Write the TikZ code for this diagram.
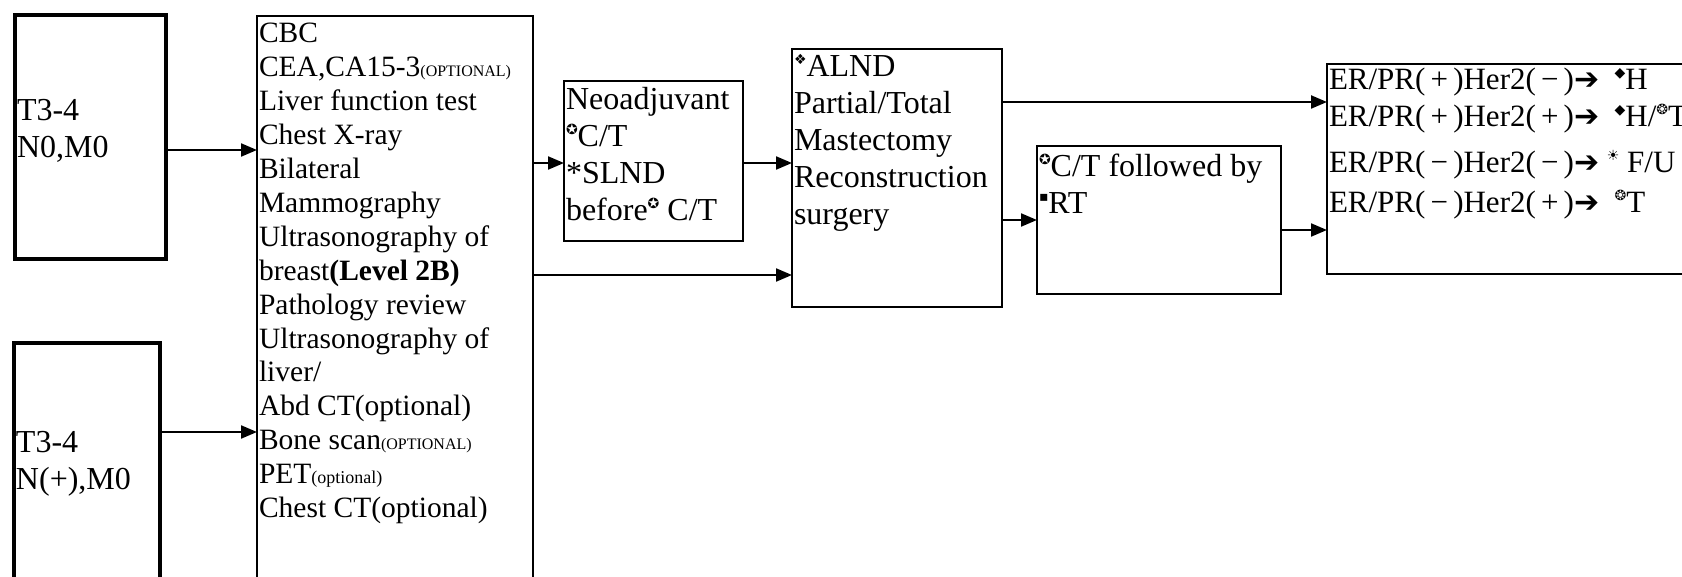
\documentclass[tikz,border=0pt]{standalone}
\usepackage{fontspec}
\setmainfont{Liberation Serif}
\newfontfamily\symf{DejaVu Sans}
\usetikzlibrary{arrows.meta}
\newcommand{\smark}[1]{\raisebox{0.40em}{\symf\fontsize{14}{14}\selectfont #1}}
\newcommand{\optsmall}[1]{{\fontsize{16}{16}\selectfont #1}}
\newcommand{\rarr}{{\symf\fontsize{30}{30}\selectfont ➔}}
\begin{document}
\begin{tikzpicture}[x=1pt,y=-1pt,
  thickbox/.style={draw, line width=4pt, inner sep=0pt, outer sep=0pt, anchor=north west},
  thinbox/.style={draw, line width=2.4pt, inner sep=0pt, outer sep=0pt, anchor=north west},
  txt/.style={inner sep=0pt, outer sep=0pt, anchor=base west, font=\fontsize{32}{37}\selectfont},
  bigtxt/.style={inner sep=0pt, outer sep=0pt, anchor=base west, font=\fontsize{29.5}{33.9}\selectfont},
  ertxt/.style={inner sep=0pt, outer sep=0pt, anchor=base west, font=\fontsize{31}{37}\selectfont},
  arr/.style={line width=2.2pt, -{Triangle[length=16pt,width=13pt]}}
]
\useasboundingbox (0,0) rectangle (1682,577);
\clip (0,0) rectangle (1682,577);

% boxes
\node[thickbox, minimum width=151pt, minimum height=244pt] (b1) at (15,15) {};
\node[thickbox, minimum width=146pt, minimum height=300pt] (b2) at (14,343) {};
\node[thinbox, line width=2pt, minimum width=276pt, minimum height=600pt] (big) at (257,16) {};
\node[thinbox, minimum width=179pt, minimum height=160pt] (neo) at (564,81) {};
\node[thinbox, minimum width=210pt, minimum height=258pt] (surg) at (792,49) {};
\node[thinbox, minimum width=244pt, minimum height=148pt] (ct) at (1037,146) {};
\node[thinbox, minimum width=400pt, minimum height=210pt] (er) at (1327,64) {};

% texts
\node[txt] (t1) at (17,121) {\begin{tabular}[t]{@{}l@{}}T3-4\\N0,M0\end{tabular}};
\node[txt] (t2) at (16,452) {\begin{tabular}[t]{@{}l@{}}T3-4\\N(+),M0\end{tabular}};
\node[bigtxt] (tbig) at (259,43) {\begin{tabular}[t]{@{}l@{}}
CBC\\
CEA,CA15-3\optsmall{(OPTIONAL)}\\
Liver function test\\
Chest X-ray\\
Bilateral\\
Mammography\\
Ultrasonography of\\
breast\textbf{(Level 2B)}\\
Pathology review\\
Ultrasonography of\\
liver/\\
Abd CT(optional)\\
Bone scan\optsmall{(OPTIONAL)}\\
PET{\fontsize{18}{18}\selectfont(optional)}\\
Chest CT(optional)
\end{tabular}};
\node[txt] (tneo) at (566,110) {\begin{tabular}[t]{@{}l@{}}
Neoadjuvant\\
\smark{✪}C/T\\
{*}SLND\\
before\smark{✪} C/T
\end{tabular}};
\node[txt] (tsurg) at (794,77) {\begin{tabular}[t]{@{}l@{}}
\smark{❖}ALND\\
Partial/Total\\
Mastectomy\\
Reconstruction\\
surgery
\end{tabular}};
\node[txt] (tct) at (1039,177) {\begin{tabular}[t]{@{}l@{}}
\smark{✪}C/T followed by\\
\smark{▪}RT
\end{tabular}};
\node[ertxt] (ter) at (1329,90) {\begin{tabular}[t]{@{}l@{}}
ER/PR(\,+\,)Her2(\,−\,)\rarr\ \ \smark{◆}H\\
ER/PR(\,+\,)Her2(\,+\,)\rarr\ \ \smark{◆}H/\smark{❂}T\\[9pt]
ER/PR(\,−\,)Her2(\,−\,)\rarr\ \smark{☀} F/U\\[3pt]
ER/PR(\,−\,)Her2(\,+\,)\rarr\ \ \smark{❂}T
\end{tabular}};

% connectors
\draw[arr] (b1.east |- 0,150) -- (big.west |- 0,150);
\draw[arr] (b2.east |- 0,432) -- (big.west |- 0,432);
\draw[arr] (big.east |- 0,163) -- (neo.west |- 0,163);
\draw[arr] (big.east |- 0,275) -- (surg.west |- 0,275);
\draw[arr] (neo.east |- 0,163) -- (surg.west |- 0,163);
\draw[arr] (surg.east |- 0,102) -- (er.west |- 0,102);
\draw[arr] (surg.east |- 0,220) -- (ct.west |- 0,220);
\draw[arr] (ct.east |- 0,230) -- (er.west |- 0,230);
\end{tikzpicture}
\end{document}
